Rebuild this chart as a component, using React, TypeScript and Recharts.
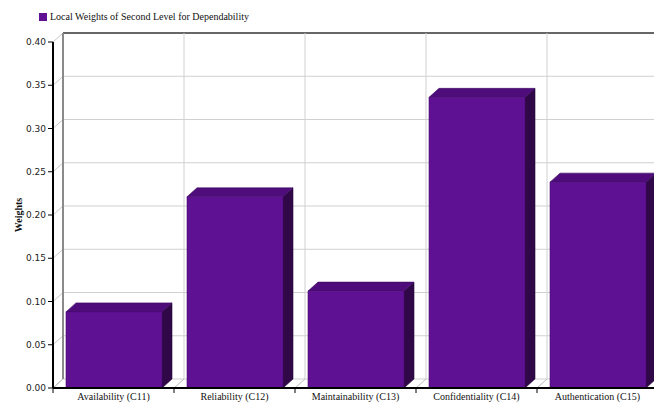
import React from 'react';
import { BarChart, Bar, XAxis, YAxis, CartesianGrid, Legend } from 'recharts';

const categories = [
  'Availability (C11)',
  'Reliability (C12)',
  'Maintainability (C13)',
  'Confidentiality (C14)',
  'Authentication (C15)',
];
const weights = [0.088, 0.221, 0.112, 0.336, 0.238];
const yTicks = [0, 0.05, 0.1, 0.15, 0.2, 0.25, 0.3, 0.35, 0.4];
const seriesName = 'Local Weights of Second Level for Dependability';

const data = categories.map((name, i) => ({ name, value: weights[i] }));

// depth of the fake 3d box
const DX = 10;
const DY = 9;

const FRONT = '#5f1193';
const TOP = '#4e0d7b';
const SIDE = '#300847';

const Box3D = (props: any) => {
  const { x, y, width, height } = props;
  if (height <= 0) return null;
  return (
    <g>
      <polygon
        points={`${x + width},${y} ${x + width + DX},${y - DY} ${x + width + DX},${y + height - DY} ${x + width},${y + height}`}
        fill={SIDE}
        stroke="#24053a"
        strokeWidth={0.6}
      />
      <polygon
        points={`${x},${y} ${x + DX},${y - DY} ${x + width + DX},${y - DY} ${x + width},${y}`}
        fill={TOP}
        stroke="#3d0a60"
        strokeWidth={0.6}
      />
      <rect x={x} y={y} width={width} height={height} fill={FRONT} stroke="#4a0c72" strokeWidth={0.6} />
    </g>
  );
};

const HLine = (props: any) => {
  const { x1, y1, x2, index, offset } = props;
  const isTop = index === yTicks.length - 1 || (offset && Math.abs(y1 - offset.top) < 1);
  return (
    <g key={`h-${index}`}>
      <line x1={x1} y1={y1} x2={x1 + DX} y2={y1 - DY} stroke="#c8c8c8" strokeWidth={1} />
      <line
        x1={x1 + DX}
        y1={y1 - DY}
        x2={x2 + DX}
        y2={y1 - DY}
        stroke={isTop ? '#333' : '#d0d0d0'}
        strokeWidth={isTop ? 1.5 : 1}
      />
    </g>
  );
};

const VLine = (props: any) => {
  const { x1, y1, y2, index } = props;
  const first = index === 0;
  return (
    <g key={`v-${index}`}>
      <line
        x1={x1 + DX}
        y1={y1 - DY}
        x2={x1 + DX}
        y2={y2 - DY}
        stroke={first ? '#8a8a8a' : '#d0d0d0'}
        strokeWidth={first ? 2 : 1}
      />
      <line x1={x1} y1={y2} x2={x1 + DX} y2={y2 - DY} stroke="#bbb" strokeWidth={1} />
      <line x1={x1} y1={y2} x2={x1} y2={y2 + 5} stroke="#000" strokeWidth={1} />
    </g>
  );
};

const XTick = (props: any) => {
  const { x, y, payload } = props;
  return (
    <text
      x={x}
      y={y + 4}
      textAnchor="middle"
      fontFamily="'Liberation Serif', serif"
      fontSize={10}
      fill="#111"
    >
      {payload.value}
    </text>
  );
};

const LegendBox = () => (
  <div style={{ display: 'flex', alignItems: 'center', fontFamily: "'Liberation Serif', serif", fontSize: 10, lineHeight: '10px', color: '#111' }}>
    <span style={{ display: 'inline-block', width: 8, height: 8, background: FRONT, marginRight: 3 }} />
    {seriesName}
  </div>
);

export default function App() {
  return (
    <div style={{ position: 'absolute', left: 0, top: 0, width: 654, height: 403, overflow: 'hidden', background: '#fff' }}>
      <BarChart
        width={672}
        height={403}
        data={data}
        margin={{ top: 32, right: 14, left: 0, bottom: 0 }}
        barSize={96}
      >
        <CartesianGrid
          horizontal={HLine}
          vertical={VLine}
          verticalCoordinatesGenerator={({ offset }: any) =>
            Array.from({ length: categories.length + 1 }, (_, i) => offset.left + (i * offset.width) / categories.length)
          }
        />
        <XAxis
          dataKey="name"
          height={15}
          tickLine={false}
          axisLine={{ stroke: '#000', strokeWidth: 2 }}
          tick={<XTick />}
          interval={0}
        />
        <YAxis
          width={53}
          domain={[0, 0.4]}
          ticks={yTicks}
          tickFormatter={(v: number) => v.toFixed(2)}
          axisLine={{ stroke: '#000', strokeWidth: 2 }}
          tickLine={{ stroke: '#000' }}
          tickSize={5}
          tick={{ fontFamily: "'DejaVu Sans', sans-serif", fontSize: 9, fill: '#222' }}
          label={{
            value: 'Weights',
            angle: -90,
            position: 'insideLeft',
            offset: 18,
            style: { fontFamily: "'Liberation Serif', serif", fontSize: 10, fontWeight: 'bold', fill: '#111', textAnchor: 'middle' },
          }}
        />
        <Legend
          verticalAlign="top"
          align="left"
          height={10}
          content={<LegendBox />}
          wrapperStyle={{ top: 12, left: 39, width: 'auto' }}
        />
        <Bar dataKey="value" name={seriesName} fill={FRONT} shape={<Box3D />} isAnimationActive={false} />
      </BarChart>
    </div>
  );
}
